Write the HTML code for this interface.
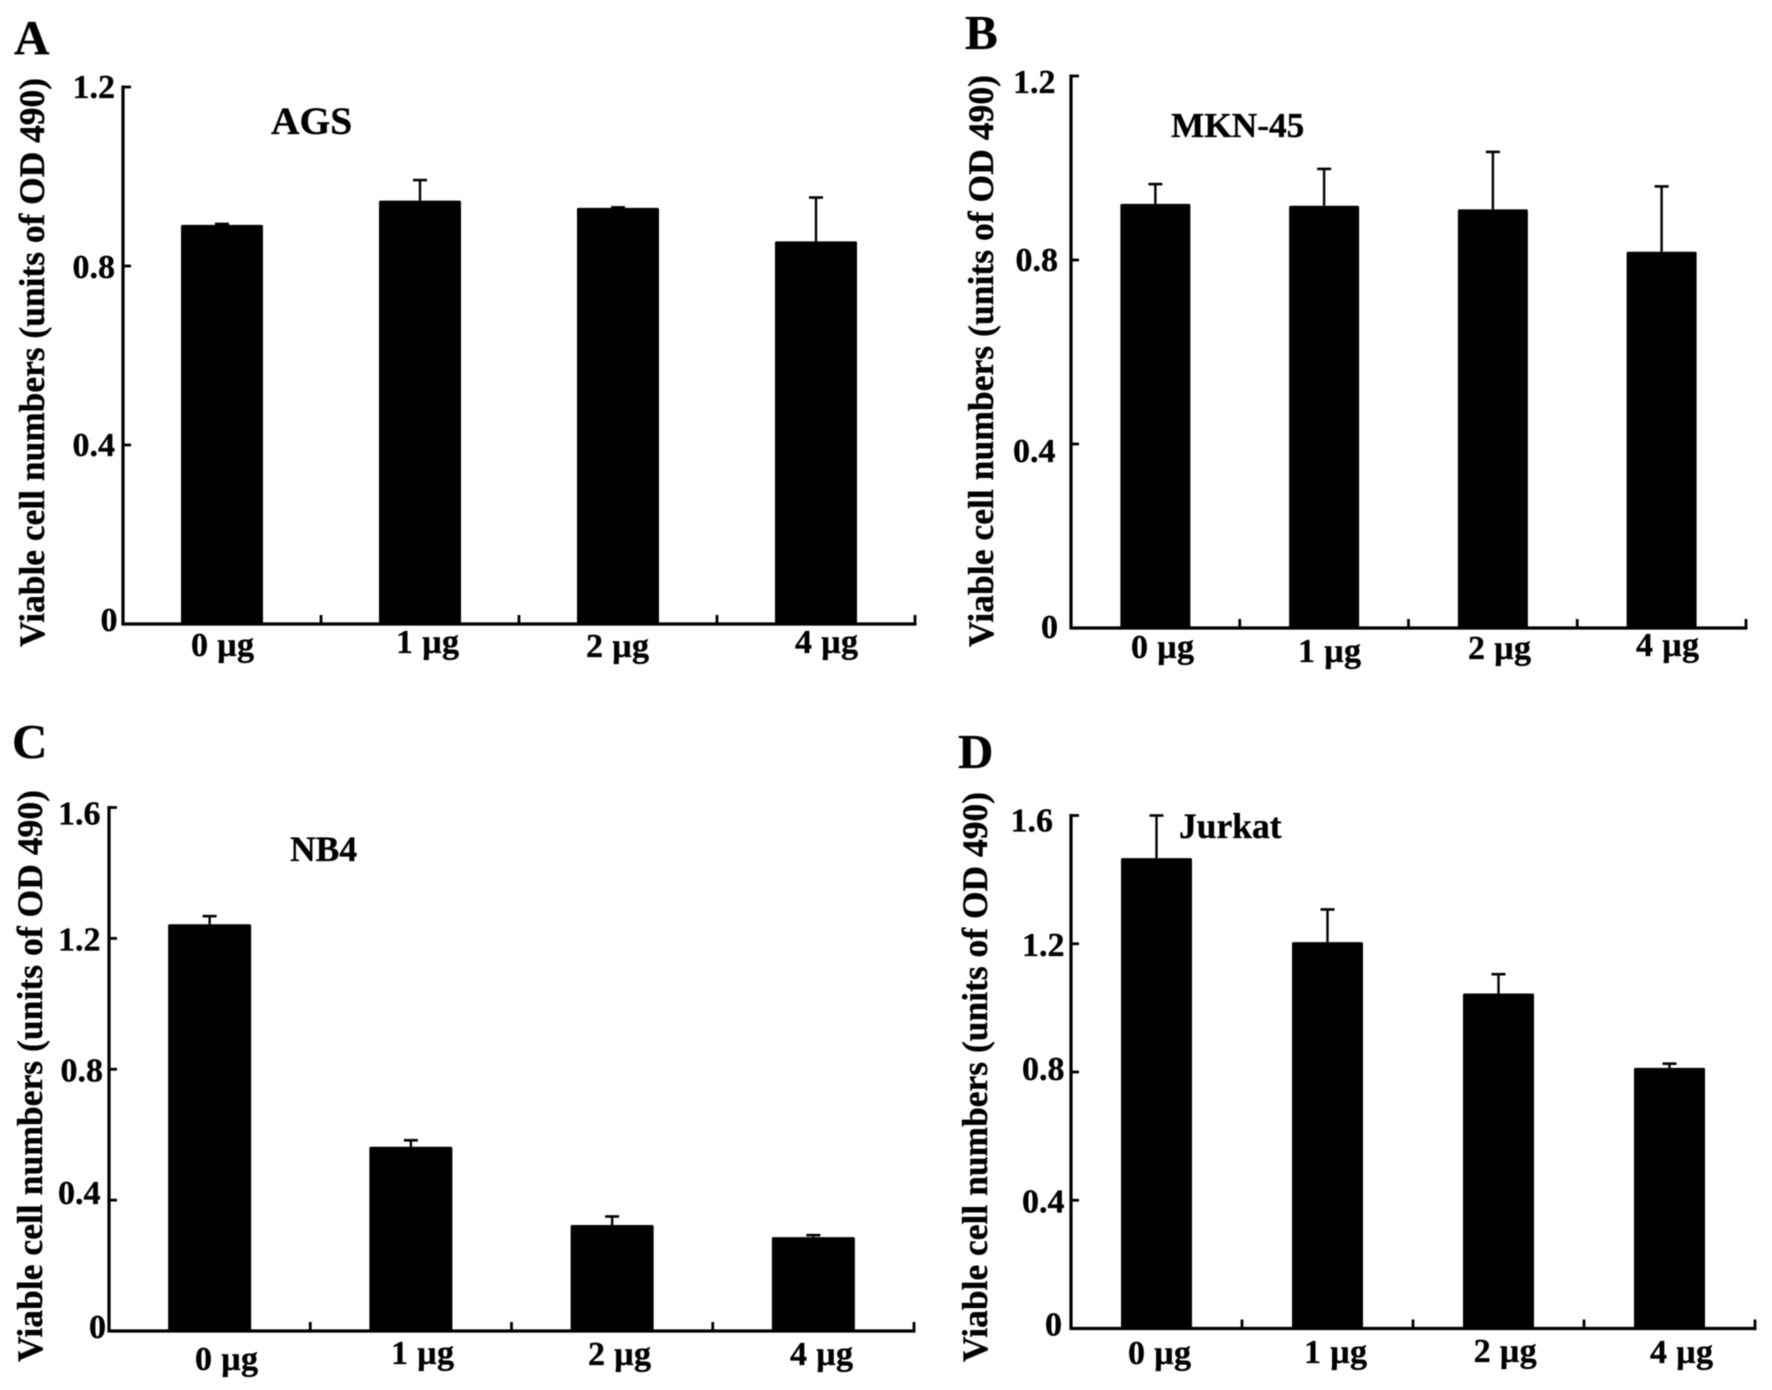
<!DOCTYPE html>
<html lang="en">
<head>
<meta charset="utf-8">
<title>Viable cell numbers</title>
<style>
html,body{margin:0;padding:0;background:#fff}
svg{display:block;filter:blur(0.45px)}
text{font-family:"Liberation Serif",serif;font-weight:bold;fill:#000;stroke:#000;stroke-width:0.35px}
</style>
</head>
<body>
<svg id="figure" xmlns="http://www.w3.org/2000/svg" width="1772" height="1390" viewBox="0 0 1772 1390"></svg>
<script>
// ---- data ----
const categories = ['0 µg', '1 µg', '2 µg', '4 µg'];
const yAxisTitle = 'Viable cell numbers (units of OD 490)';

const ticksA = ['0', '0.4', '0.8', '1.2'];
const valuesA = [0.892, 0.946, 0.930, 0.855];
const errorTopsA = [0.894, 0.992, 0.931, 0.953];

const ticksB = ['0', '0.4', '0.8', '1.2'];
const valuesB = [0.922, 0.918, 0.910, 0.818];
const errorTopsB = [0.965, 0.998, 1.035, 0.960];

const ticksC = ['0', '0.4', '0.8', '1.2', '1.6'];
const valuesC = [1.243, 0.563, 0.324, 0.287];
const errorTopsC = [1.268, 0.583, 0.350, 0.293];

const ticksD = ['0', '0.4', '0.8', '1.2', '1.6'];
const valuesD = [1.467, 1.205, 1.045, 0.813];
const errorTopsD = [1.600, 1.307, 1.105, 0.826];

// ---- panel geometry (layout only) ----
const panelA = {
  id: 'a', letter: 'A', cell: 'AGS', ticks: ticksA, values: valuesA, errorTops: errorTopsA,
  x0: 123, x1: 915, yBase: 624, yTop: 87, barWidth: 82,
  letterX: 14, letterY: 54, cellX: 271, cellY: 134, cellSize: 39.5,
  titleX: 44, titleBottom: 647, titleLen: 569,
  tickRight: [117.5, 115, 115, 115], tickDy: [-4, 0, 1, 0],
  catX: [191, 396, 586, 795], catY: [656, 653, 657, 653]
};
const panelB = {
  id: 'b', letter: 'B', cell: 'MKN-45', ticks: ticksB, values: valuesB, errorTops: errorTopsB,
  x0: 1071, x1: 1746, yBase: 628, yTop: 76, barWidth: 70,
  letterX: 965, letterY: 49, cellX: 1171, cellY: 137, cellSize: 35.3,
  titleX: 993, titleBottom: 647, titleLen: 572,
  tickRight: [1058, 1055.5, 1058, 1055.5], tickDy: [-1, 7, 0, 6],
  catX: [1131, 1298, 1468, 1636], catY: [658, 662, 659, 656]
};
const panelC = {
  id: 'c', letter: 'C', cell: 'NB4', ticks: ticksC, values: valuesC, errorTops: errorTopsC,
  x0: 109, x1: 914, yBase: 1331, yTop: 807.5, barWidth: 83,
  letterX: 12, letterY: 758, cellX: 290, cellY: 861, cellSize: 35.5,
  titleX: 42, titleBottom: 1362, titleLen: 572,
  tickRight: [106, 100.5, 103, 100.5, 100.5], tickDy: [-4, -7, 1, 1, 6],
  catX: [195, 391, 588, 790], catY: [1370, 1364, 1365, 1365]
};
const panelD = {
  id: 'd', letter: 'D', cell: 'Jurkat', ticks: ticksD, values: valuesD, errorTops: errorTopsD,
  x0: 1071, x1: 1755, yBase: 1328.5, yTop: 815.5, barWidth: 71,
  letterX: 958, letterY: 768, cellX: 1179, cellY: 838, cellSize: 35.5,
  titleX: 987, titleBottom: 1362, titleLen: 570,
  tickRight: [1062, 1064.5, 1064.5, 1064.5, 1053], tickDy: [-4, 1, -3, 1, 5],
  catX: [1128, 1304, 1473.6, 1650], catY: [1364, 1363, 1362, 1363]
};

const NS = 'http://www.w3.org/2000/svg';
const figure = document.getElementById('figure');

function makeLine(parent, x1, y1, x2, y2, width) {
  const el = document.createElementNS(NS, 'line');
  el.setAttribute('x1', x1);
  el.setAttribute('y1', y1);
  el.setAttribute('x2', x2);
  el.setAttribute('y2', y2);
  el.setAttribute('stroke', '#000');
  el.setAttribute('stroke-width', width);
  parent.appendChild(el);
  return el;
}

function makeText(parent, content, x, y, size, anchor) {
  const el = document.createElementNS(NS, 'text');
  el.setAttribute('x', x);
  el.setAttribute('y', y);
  el.setAttribute('font-size', size);
  el.setAttribute('text-anchor', anchor || 'start');
  el.textContent = content;
  parent.appendChild(el);
  return el;
}

function drawPanel(p) {
  const tickNumbers = p.ticks.map(Number);
  const yMax = Math.max.apply(null, tickNumbers);
  const yScale = v => p.yBase - (v / yMax) * (p.yBase - p.yTop);
  const step = (p.x1 - p.x0) / categories.length;
  const xCenter = i => p.x0 + (i + 0.5) * step;

  const group = document.createElementNS(NS, 'g');
  
  
  figure.appendChild(group);

  const letter = makeText(group, p.letter, p.letterX, p.letterY, 49);
  
  

  const cell = makeText(group, p.cell, p.cellX, p.cellY, p.cellSize);
  
  

  const title = makeText(group, yAxisTitle, 0, 0, 36);
  title.setAttribute('transform', 'translate(' + p.titleX + ' ' + p.titleBottom + ') rotate(-90)');
  title.setAttribute('textLength', p.titleLen);
  title.setAttribute('lengthAdjust', 'spacingAndGlyphs');
  
  

  // bars and error bars
  p.values.forEach((v, i) => {
    const cx = xCenter(i);
    const err = makeLine(group, cx, yScale(v), cx, yScale(p.errorTops[i]), 2.4);
    
    
    const cap = makeLine(group, cx - 7, yScale(p.errorTops[i]), cx + 7, yScale(p.errorTops[i]), 2.6);
    
    
    const bar = document.createElementNS(NS, 'rect');
    bar.setAttribute('x', cx - p.barWidth / 2);
    bar.setAttribute('y', yScale(v));
    bar.setAttribute('width', p.barWidth);
    bar.setAttribute('height', p.yBase - yScale(v));
    bar.setAttribute('rx', 1.5);
    bar.setAttribute('fill', '#000');
    
    
    group.appendChild(bar);
  });

  // axes
  const yAxis = makeLine(group, p.x0, p.yTop - 1.5, p.x0, p.yBase + 1.5, 3.2);
  
  
  const xAxis = makeLine(group, p.x0, p.yBase, p.x1 + 1.5, p.yBase, 3.2);
  
  

  // y ticks and labels
  p.ticks.forEach((label, i) => {
    const y = yScale(tickNumbers[i]);
    if (tickNumbers[i] !== 0) {
      const t = makeLine(group, p.x0, y, p.x0 + 8, y, 2.8);
      
      
    }
    const tl = makeText(group, label, p.tickRight[i], y + 11 + p.tickDy[i], 34, 'end');
    
    
  });

  // x ticks and labels
  categories.forEach((label, i) => {
    const tx = p.x0 + (i + 1) * step;
    const t = makeLine(group, tx, p.yBase, tx, p.yBase - 9, 2.8);
    
    
    const tl = makeText(group, label, p.catX[i], p.catY[i], 34);
    tl.setAttribute('textLength', 63);
    
    
  });
}

[panelA, panelB, panelC, panelD].forEach(drawPanel);
</script>
</body>
</html>
